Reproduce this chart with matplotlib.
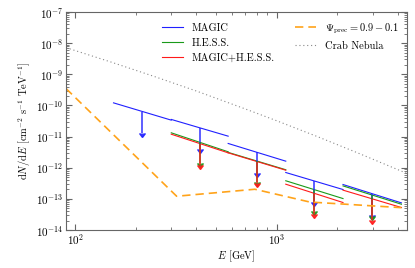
import numpy as np
import matplotlib
matplotlib.use("Agg")
import matplotlib.pyplot as plt
from matplotlib.lines import CARETDOWNBASE

plt.rcParams["font.family"] = "serif"
plt.rcParams["font.serif"] = ["cmr10"]
plt.rcParams["mathtext.fontset"] = "cm"
plt.rcParams["axes.formatter.use_mathtext"] = True

# energy bins [GeV]
bin_edges = [155, 300, 575, 1111, 2138, 4170]

# upper limit flux at lower / upper bin edge [cm^-2 s^-1 TeV^-1]
magic_lo = [1.21e-10, 3.55e-11, 6.0e-12, 7.0e-13, 2.88e-13]
magic_hi = [3.37e-11, 1.03e-11, 1.62e-12, 1.99e-13, 7.4e-14]
hess_lo = [np.nan, 1.32e-11, 3.1e-12, 3.8e-13, 2.6e-13]
hess_hi = [np.nan, 3.24e-12, 8.6e-13, 1.02e-13, 6.7e-14]
comb_lo = [np.nan, 1.19e-11, 3.0e-12, 2.95e-13, 1.9e-13]
comb_hi = [np.nan, 3.0e-12, 8.3e-13, 7.6e-14, 5.25e-14]

# Psi_prec curve
psi_E = [90, 319, 780, 1460, 4170]
psi_flux = [3.5e-10, 1.21e-13, 2.03e-13, 7.9e-14, 5.2e-14]

# Crab Nebula spectrum
crab_E = [90, 150, 250, 400, 700, 1000, 1600, 2500, 4450]
crab_flux = [7.2e-9, 2.5e-9, 8.3e-10, 2.9e-10, 7.7e-11, 3.23e-11, 9.9e-12, 3.08e-12, 6.5e-13]

y_ticks = [1e-14, 1e-13, 1e-12, 1e-11, 1e-10, 1e-9, 1e-8, 1e-7]
x_ticks = [100, 1000]

ARROW = 0.21  # arrow length factor (in flux)

fig = plt.figure(figsize=(4.15, 2.68), dpi=100)
ax = fig.add_axes([0.159, 0.142, 0.822, 0.813])

series = [
    ("MAGIC", magic_lo, magic_hi, "#2020ff"),
    ("H.E.S.S.", hess_lo, hess_hi, "#1a9a1a"),
    ("MAGIC+H.E.S.S.", comb_lo, comb_hi, "#ff1a1a"),
]

for name, lo, hi, c in series:
    first = True
    for i in range(len(lo)):
        if np.isnan(lo[i]):
            continue
        e1, e2 = bin_edges[i], bin_edges[i + 1]
        ax.plot([e1, e2], [lo[i], hi[i]], color=c, lw=0.8,
                label=name if first else None)
        first = False

for name, lo, hi, c in series:
    for i in range(len(lo)):
        if np.isnan(lo[i]):
            continue
        ec = np.sqrt(bin_edges[i] * bin_edges[i + 1])
        fc = np.sqrt(lo[i] * hi[i])
        ax.vlines(ec, fc * ARROW, fc, color=c, lw=1.2, alpha=0.85)
        ax.plot(ec, fc * ARROW, marker=CARETDOWNBASE, color=c, ms=4, alpha=0.9)

ax.plot(psi_E, psi_flux, color="#ffa31a", ls=(0, (5, 3)), lw=1.2,
        label=r"$\Psi_{\rm prec}=0.9-0.1$")
ax.plot(crab_E, crab_flux, color="#888888", ls=(0, (1, 2.5)), lw=0.8,
        label="Crab Nebula")

ax.set_xscale("log")
ax.set_yscale("log")
ax.set_xticks(x_ticks)
ax.set_yticks(y_ticks)
ax.yaxis.set_minor_locator(matplotlib.ticker.LogLocator(subs=np.arange(2, 10), numticks=20))
ax.yaxis.set_minor_formatter(matplotlib.ticker.NullFormatter())
ax.xaxis.set_minor_formatter(matplotlib.ticker.NullFormatter())
ax.set_xlim(90, 4450)
ax.set_ylim(1e-14, 1e-7)
ax.set_xlabel(r"$E$ [GeV]", fontsize=7.5, labelpad=1)
ax.set_ylabel(r"$\mathrm{d}N/\mathrm{d}E$ [cm$^{-2}$ s$^{-1}$ TeV$^{-1}$]",
              fontsize=7.5, labelpad=2)

for s in ax.spines.values():
    s.set_color("#666666")
ax.tick_params(which="both", direction="in", top=True, right=True,
               color="#666666", labelsize=8, pad=2)
ax.tick_params(which="major", length=4)
ax.tick_params(which="minor", length=2)

ax.legend(ncol=2, frameon=False, fontsize=7.5, loc="upper left",
          bbox_to_anchor=(0.255, 1.0))

fig.savefig("out.png", dpi=100)
